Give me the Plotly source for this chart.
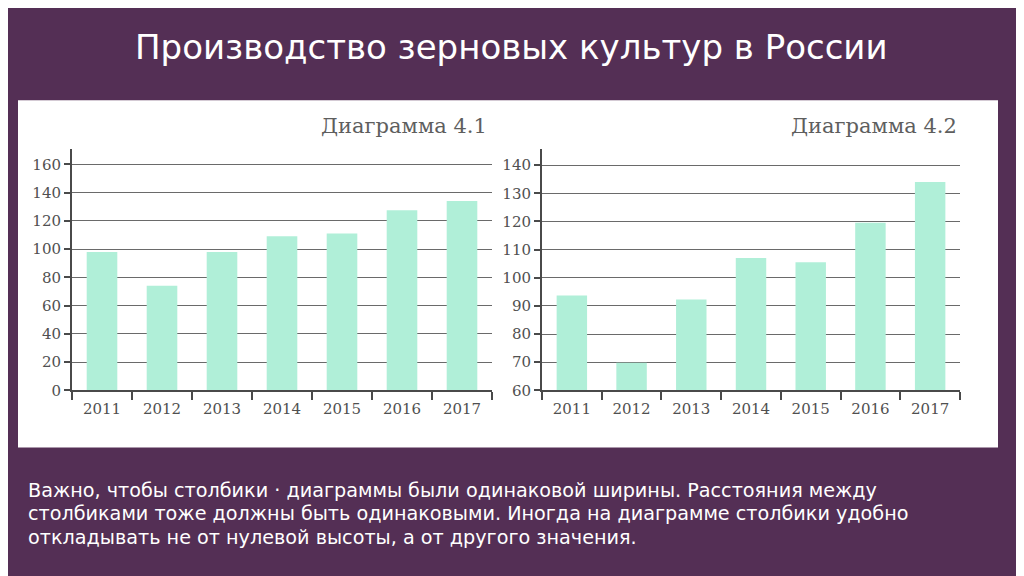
import plotly.graph_objects as go

years = ["2011", "2012", "2013", "2014", "2015", "2016", "2017"]
harvest_41 = [98, 74, 98, 109, 111, 127.5, 134]
harvest_42 = [93.7, 69.8, 92.3, 107, 105.5, 119.5, 134]

title_text = "Производство зерновых культур в России"
chart_labels = ["Диаграмма 4.1", "Диаграмма 4.2"]
body_lines = [
    "Важно, чтобы столбики · диаграммы были одинаковой ширины. Расстояния между",
    "столбиками тоже должны быть одинаковыми. Иногда на диаграмме столбики удобно",
    "откладывать не от нулевой высоты, а от другого значения.",
]

W, H = 1024, 576
# the page puts the figure a little right/down and squeezes it slightly in
# height; these numbers map screen pixels back to paper fractions
X_OFF, Y_OFF, Y_SPAN = 8, 8.7, 566.9

def xp(px):
    return (px - X_OFF) / W

def yp(py):
    return 1 - (py - Y_OFF) / Y_SPAN

bg = "#542f55"
bar_color = "#b0efd8"
axis_color = "#4a4a4a"
grid_color = "#6a6a6a"
tick_font = dict(family="DejaVu Serif", size=15, color="#505050")

fig = go.Figure()
fig.add_trace(go.Bar(x=years, y=harvest_41, marker=dict(color=bar_color, line=dict(width=0)),
                     xaxis="x", yaxis="y"))
fig.add_trace(go.Bar(x=years, y=harvest_42, marker=dict(color=bar_color, line=dict(width=0)),
                     xaxis="x2", yaxis="y2"))

y_dom = [yp(391), yp(150)]

def xax(domain, anchor):
    return dict(domain=domain, anchor=anchor, type="category", range=[-0.5, 6.5],
                showline=True, linecolor=axis_color, linewidth=2,
                ticks="outside", tickson="boundaries", ticklen=8, tickwidth=2,
                tickcolor=axis_color, tickfont=tick_font, showgrid=False,
                ticklabelstandoff=4, fixedrange=True)

def yax(domain, anchor, rng, dtick):
    return dict(domain=domain, anchor=anchor, range=rng, dtick=dtick,
                showline=True, linecolor=axis_color, linewidth=2,
                ticks="outside", ticklen=6, tickwidth=1.5, tickcolor=axis_color,
                tickfont=tick_font, showgrid=True, gridcolor=grid_color,
                gridwidth=1, zeroline=False, fixedrange=True)

fig.update_layout(
    width=W, height=H,
    margin=dict(l=0, r=0, t=0, b=0),
    paper_bgcolor=bg, plot_bgcolor="white",
    showlegend=False, bargap=0.49,
    xaxis=xax([xp(72), xp(492)], "y"),
    yaxis=yax(y_dom, "x", [0, 170.6], 20),
    xaxis2=xax([xp(542), xp(960)], "y2"),
    yaxis2=yax(y_dom, "x2", [60, 145.6], 10),
)

# white panel behind charts
fig.add_shape(type="rect", xref="paper", yref="paper",
              x0=xp(18), x1=xp(998), y0=yp(448), y1=yp(101),
              fillcolor="white", line=dict(width=0), layer="below")

fig.add_annotation(text=title_text, xref="paper", yref="paper",
                   x=xp(511), y=yp(48), xanchor="center", yanchor="middle",
                   showarrow=False,
                   font=dict(family="DejaVu Sans", size=34, color="white"))

for label, xr in zip(chart_labels, [489, 959]):
    fig.add_annotation(text=label, xref="paper", yref="paper",
                       x=xp(xr), y=yp(127), xanchor="right", yanchor="middle",
                       showarrow=False,
                       font=dict(family="DejaVu Serif", size=21, color="#5e5e5e"))

for i, line in enumerate(body_lines):
    fig.add_annotation(text=line, xref="paper", yref="paper",
                       x=xp(26), y=yp(491 + i * 23.5), xanchor="left", yanchor="middle",
                       showarrow=False,
                       font=dict(family="DejaVu Sans", size=19.2, color="white"))

fig.write_html("out.html")
